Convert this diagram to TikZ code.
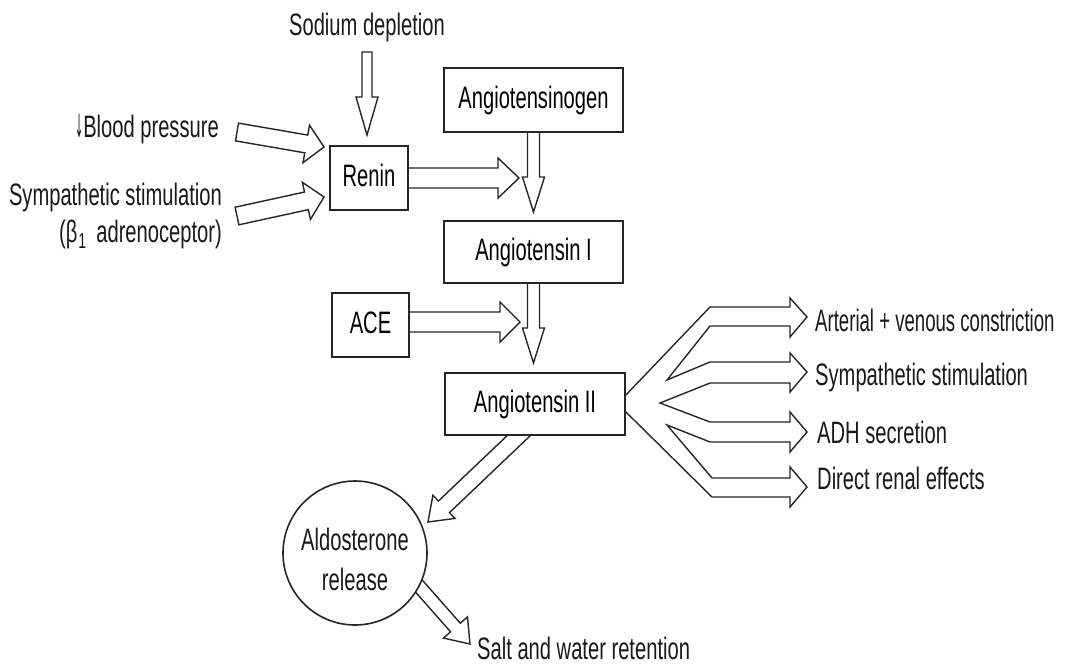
\documentclass[tikz,border=0pt]{standalone}
\usepackage{fontspec}
\setmainfont{Liberation Sans}[FakeStretch=0.65]
\newfontfamily\narrowfont{Liberation Sans}[FakeStretch=0.6]
\newfontfamily\arrowfont{DejaVu Sans}[FakeStretch=0.3]
\usetikzlibrary{calc,backgrounds}

\tikzset{
  harrow/.style={draw=black!85, fill=white, line width=1.4pt, line join=miter},
  box/.style={draw=black!85, fill=white, line width=1.8pt, inner sep=0pt,
    font=\fontsize{31}{37}\selectfont, text height=22pt, text depth=6pt},
  circ/.style={draw=black!85, fill=white, line width=1.6pt, circle, inner sep=0pt},
  lbl/.style={inner sep=0pt, font=\fontsize{31}{37}\selectfont, text=black!90},
  fanline/.style={draw=black!85, line width=1.4pt, line join=miter}
}

% start, tip, shaft half-width, head half-width, head length
\newcommand\hollowarrow[5]{%
  \coordinate (hahead) at ($(#2)!#5!(#1)$);
  \draw[harrow] ($(#1)!#3!90:(#2)$) -- ($(hahead)!#3!90:(#2)$)
    -- ($(hahead)!#4!90:(#2)$) -- (#2) -- ($(hahead)!#4!-90:(#2)$)
    -- ($(hahead)!#3!-90:(#2)$) -- ($(#1)!#3!-90:(#2)$) -- cycle;
}

\begin{document}
\begin{tikzpicture}[x=1pt,y=-1pt]
\useasboundingbox (0,0) rectangle (1079,665);

% boxes
\node[box, minimum width=78pt, minimum height=64pt] (renin) at (369,178) {Renin};
\node[box, minimum width=179pt, minimum height=64pt] (ag) at (533.5,100) {Angiotensinogen};
\node[box, minimum width=179pt, minimum height=62pt] (a1) at (533.5,252) {Angiotensin I};
\node[box, minimum width=77pt, minimum height=64pt] (ace) at (370.5,325) {ACE};
\node[box, minimum width=180pt, minimum height=62pt] (a2) at (535,404) {Angiotensin II};
\node[circ, minimum size=144pt] (aldo) at (355,553) {};
\node[lbl, anchor=base] (aldoT1) at (355,550) {Aldosterone};
\node[lbl, anchor=base] (aldoT2) at (355,590) {release};

% labels
\node[lbl, anchor=base] (sod) at (367,35) {Sodium depletion};
\node[lbl, anchor=base east] (bp) at (219,137) {{\arrowfont\fontsize{32}{32}\selectfont ↓}Blood pressure};
\node[lbl, anchor=base east] (sym) at (222,205) {Sympathetic stimulation};
\node[lbl, anchor=base east] (beta) at (222,242) {(β\kern1pt\textsubscript{1}\kern4pt\ adrenoceptor)};
\node[lbl, anchor=base west] (t1) at (815,331) {\narrowfont Arterial + venous constriction};
\node[lbl, anchor=base west] (t2) at (815,385) {Sympathetic stimulation};
\node[lbl, anchor=base west] (t3) at (817,443) {ADH secretion};
\node[lbl, anchor=base west] (t4) at (817,489) {Direct renal effects};
\node[lbl, anchor=base west] (salt) at (477,659) {Salt and water retention};

% arrow coordinates
\coordinate (sodTop) at (367,52);
\coordinate (sodTip) at (367,135);
\coordinate (bpStart) at (237,132);
\coordinate (bpTip) at (324,147);
\coordinate (symStart) at (237,216);
\coordinate (symTip) at (324,197);
\coordinate (reninTip) at (519,178);
\coordinate (aceStart) at ($(ace.center)+(0,-3)$);
\coordinate (aceTip) at (520,322);
\coordinate (agTip) at (533.5,212);
\coordinate (a1Tip) at (533.5,363);
\coordinate (aldoStart) at (532,423);
\coordinate (aldoTip) at (428,522);
\coordinate (saltStart) at (410,576);
\coordinate (saltTip) at (470,644);

\begin{scope}[on background layer]
  \fill[white] (0,0) rectangle (1079,665);
  \hollowarrow{sodTop}{sodTip}{5pt}{11pt}{38pt}
  \hollowarrow{bpStart}{bpTip}{9pt}{19pt}{18pt}
  \hollowarrow{symStart}{symTip}{9pt}{19pt}{18pt}
  \hollowarrow{renin.center}{reninTip}{10pt}{20pt}{21pt}
  \hollowarrow{aceStart}{aceTip}{10pt}{20pt}{20pt}
  \hollowarrow{ag.center}{agTip}{6pt}{11pt}{35pt}
  \hollowarrow{a1.center}{a1Tip}{6pt}{11pt}{35pt}
  \hollowarrow{aldoStart}{aldoTip}{8pt}{16pt}{22pt}
  \hollowarrow{saltStart}{saltTip}{6.5pt}{16pt}{22pt}
  % fan of effects from Angiotensin II
  \draw[fanline] ($(a2.east)+(0,-9)$) -- (710,307) -- (790,307) -- (790,298) -- (807,317)
    -- (790,337) -- (790,326) -- (710,326) -- (667,380) -- (710,362) -- (790,362)
    -- (790,353) -- (807,372) -- (790,392) -- (790,383) -- (710,383) -- (660,403)
    -- (710,422) -- (790,422) -- (790,412) -- (807,432) -- (790,452) -- (790,442)
    -- (710,442) -- (667,425) -- (712,478) -- (790,478) -- (790,467) -- (807,487)
    -- (790,507) -- (790,497) -- (712,497) -- ($(a2.east)+(0,8)$);
\end{scope}
\end{tikzpicture}
\end{document}
